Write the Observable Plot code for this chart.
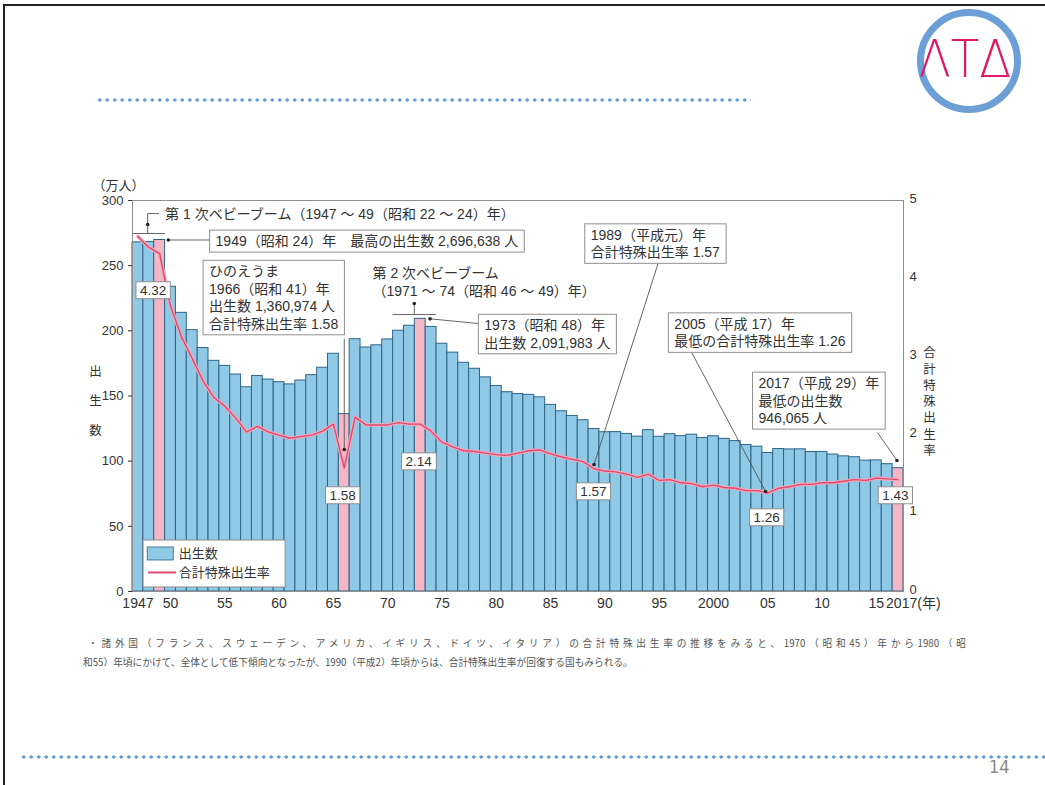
<!DOCTYPE html>
<html><head><meta charset="utf-8">
<script src="https://cdn.jsdelivr.net/npm/d3@7"></script>
<script src="https://cdn.jsdelivr.net/npm/@observablehq/plot@0.6"></script>
<style>
html,body{margin:0;padding:0;background:#fff;}
body{width:1045px;height:785px;position:relative;overflow:hidden;font-family:"Liberation Sans","Noto Sans CJK JP",sans-serif;}
#frame{position:absolute;left:3px;top:4px;width:1100px;height:900px;border-left:2.5px solid #222;border-top:2.5px solid #222;}
.dots{position:absolute;height:4px;background-image:radial-gradient(circle, #5b9bd5 1.4px, rgba(91,155,213,0) 1.9px);background-size:7.5px 4px;background-repeat:repeat-x;}
#logo-ring{position:absolute;left:917px;top:9px;width:90px;height:90px;border:7px solid #6b9fd6;border-radius:50%;}
#logo-text{position:absolute;left:900px;top:28px;width:130px;text-align:center;font-size:52px;line-height:62px;color:#e31766;letter-spacing:0px;font-family:"DejaVu Sans",sans-serif;font-weight:200;transform:scaleX(0.9);}
#chart{position:absolute;left:60px;top:160px;}
.cap{position:absolute;font-family:"Noto Sans CJK JP",sans-serif;font-size:9.7px;color:#555;line-height:14px;}
#cap1{left:88px;top:636px;width:878px;text-align:justify;text-align-last:justify;}
#cap2{left:83px;top:655px;white-space:nowrap;}
#page{position:absolute;left:989px;top:756px;font-size:18px;color:#8a8a8a;font-family:"Liberation Sans Narrow","DejaVu Sans Condensed",sans-serif;}
</style></head>
<body>
<div id="frame"></div>
<div class="dots" style="left:96px;top:98px;width:655px;"></div>
<div class="dots" style="left:20px;top:755px;width:1030px;"></div>
<div id="logo-ring"></div>
<div id="logo-text">ΛTΔ</div>
<div id="chart"></div>
<div class="cap" id="cap1">・諸外国（フランス、スウェーデン、アメリカ、イギリス、ドイツ、イタリア）の合計特殊出生率の推移をみると、1970（昭和45）年から1980（昭</div>
<div class="cap" id="cap2">和55）年頃にかけて、全体として低下傾向となったが、1990（平成2）年頃からは、合計特殊出生率が回復する国もみられる。</div>
<div id="page">14</div>
<script>
// ---- data ----
const years = d3.range(1947, 2018);
const births = [267.9,268.2,269.7,233.8,213.8,200.5,186.8,177.0,173.1,166.5,
  156.7,165.3,162.6,160.6,158.9,161.9,166.0,171.7,182.4,136.1,
  193.6,187.2,188.9,193.4,200.1,203.9,209.2,203.0,190.1,183.3,
  175.5,170.9,164.3,157.7,152.9,151.5,150.9,149.0,143.2,138.3,
  134.7,131.4,124.7,122.2,122.3,120.9,118.8,123.8,118.7,120.7,
  119.2,120.3,117.8,119.1,117.1,115.4,112.4,111.1,106.3,109.3,
  109.0,109.1,107.0,107.1,105.1,103.7,103.0,100.4,100.6,97.7,94.6];
const tfr = [4.54,4.40,4.32,3.65,3.26,2.98,2.69,2.48,2.37,2.22,
  2.04,2.11,2.04,2.00,1.96,1.98,2.00,2.05,2.14,1.58,
  2.23,2.13,2.13,2.13,2.16,2.14,2.14,2.05,1.91,1.85,
  1.80,1.79,1.77,1.75,1.74,1.77,1.80,1.81,1.76,1.72,
  1.69,1.66,1.57,1.54,1.53,1.50,1.46,1.50,1.42,1.43,
  1.39,1.38,1.34,1.36,1.33,1.32,1.29,1.29,1.26,1.32,
  1.34,1.37,1.37,1.39,1.39,1.41,1.43,1.42,1.45,1.44,1.43];
const highlightYears = [1949, 1966, 1973, 2017];
const xTickYears = [1947,1950,1955,1960,1965,1970,1975,1980,1985,1990,1995,2000,2005,2010,2015,2017];
const xTickLabels = ["1947","50","55","60","65","70","75","80","85","90","95","2000","05","10","15","2017"];
const leftTicks = [0,50,100,150,200,250,300];
const rightTicks = [0,1,2,3,4,5];
const seriesNames = ["出生数", "合計特殊出生率"];

// annotations (data coordinates: year, 万人)
const boxNotes = [
  {x: 1954.15, y: 269.3, text: "1949（昭和 24）年　最高の出生数 2,696,638 人"},
  {x: 1953.55, y: 226, text: "ひのえうま\n1966（昭和 41）年\n出生数 1,360,974 人\n合計特殊出生率 1.58"},
  {x: 1978.9, y: 198, text: "1973（昭和 48）年\n出生数 2,091,983 人"},
  {x: 1988.7, y: 267.4, text: "1989（平成元）年\n合計特殊出生率 1.57"},
  {x: 1996.4, y: 199.1, text: "2005（平成 17）年\n最低の合計特殊出生率 1.26"},
  {x: 2004.15, y: 146.9, text: "2017（平成 29）年\n最低の出生数\n946,065 人"}
];
const valueLabels = [
  {x: 1948.4, y: 231, text: "4.32"},
  {x: 1965.85, y: 73.7, text: "1.58"},
  {x: 1972.85, y: 99.7, text: "2.14"},
  {x: 1988.95, y: 76.7, text: "1.57"},
  {x: 2004.9, y: 56.8, text: "1.26"},
  {x: 2016.75, y: 73.7, text: "1.43"}
];
const plainNotes = [
  {x: 1949.5, y: 290, text: "第 1 次ベビーブーム（1947 ～ 49（昭和 22 ～ 24）年）"},
  {x: 1968.6, y: 237.9, text: "第 2 次ベビーブーム\n（1971 ～ 74（昭和 46 ～ 49）年）"}
];
const leaders = [
  {x1: 1949.8, y1: 269.7, x2: 1953.6, y2: 269.7},
  {x1: 1966, y1: 194, x2: 1966, y2: 109},
  {x1: 1973.9, y1: 209.2, x2: 1978.35, y2: 205.6},
  {x1: 1994.9, y1: 251.7, x2: 1989.0, y2: 97.4},
  {x1: 1997.9, y1: 184.9, x2: 2004.8, y2: 76.7},
  {x1: 2015.1, y1: 122, x2: 2016.9, y2: 100.5}
];
const brackets = [
  {id: "a", x: 1946.55, y: 274.7}, {id: "a", x: 1949.45, y: 274.7},
  {id: "b", x: 1947.9, y: 274.7}, {id: "b", x: 1947.9, y: 290}, {id: "b", x: 1948.9, y: 290},
  {id: "c", x: 1970.5, y: 212.5}, {id: "c", x: 1974.4, y: 212.5},
  {id: "d", x: 1972.45, y: 212.5}, {id: "d", x: 1972.45, y: 221}
];
const dotsAt = [
  {x: 1947.9, y: 281.6}, {x: 1949.8, y: 269.7}, {x: 1966, y: 109}, {x: 1972.45, y: 221},
  {x: 1973.9, y: 209.2}, {x: 1989.0, y: 97.4}, {x: 2004.8, y: 76.7}, {x: 2016.9, y: 100.5}
];

const BLUE = "#8fc9e6", PINK = "#f5b7c6", EDGE = "#2e6587", LINE = "#dc4c72", HALO = "#f2a9bb";
const K = 60; // right axis factor (5 -> 300)
const data = years.map((year, i) => ({year, births: births[i], tfr: tfr[i], hl: highlightYears.includes(year)}));
const lastTick = xTickYears.length - 1;

const FONT = '"Liberation Sans","Noto Sans CJK JP",sans-serif';
const plot = Plot.plot({
  width: 920, height: 460,
  marginLeft: 72, marginRight: 77, marginTop: 40, marginBottom: 29,
  x: {domain: [1946.5, 2017.5]},
  y: {domain: [0, 300]},
  style: {fontFamily: FONT, fontSize: "13px", color: "#333", background: "transparent", overflow: "visible"},
  marks: [
    Plot.rect(data, {x1: d => d.year - 0.5, x2: d => d.year + 0.5, y1: 0, y2: "births",
      fill: d => d.hl ? PINK : BLUE, stroke: EDGE, strokeWidth: 1}),
    Plot.frame({stroke: "#8f8f8f"}),
    Plot.line(data, {x: "year", y: d => d.tfr * K, stroke: HALO, strokeWidth: 3.6}),
    Plot.line(data, {x: "year", y: d => d.tfr * K, stroke: LINE, strokeWidth: 1.4}),
    Plot.axisX({ticks: xTickYears.slice(0, lastTick), tickFormat: d => xTickLabels[xTickYears.indexOf(d)], tickSize: 0, tickPadding: 7, fontSize: 14, label: null}),
    Plot.text([{x: xTickYears[lastTick], y: 0, t: xTickLabels[lastTick] + "(年)"}], {x: "x", y: "y", text: "t", dx: -12, dy: 7, textAnchor: "start", lineAnchor: "top", fontSize: 14}),
    Plot.axisY({anchor: "left", ticks: leftTicks, tickSize: 4, tickPadding: 5, label: null}),
    Plot.axisY({anchor: "right", ticks: rightTicks.map(t => t * K), tickFormat: d => String(d / K), tickSize: 0, tickPadding: 6, dy: -2, label: null}),
    Plot.text(["（万人）"], {frameAnchor: "top-left", dx: -40, dy: -20, textAnchor: "start", fontSize: 13}),
    Plot.text(["出\n生\n数"], {frameAnchor: "left", dx: -37, textAnchor: "middle", lineHeight: 2.35, fontSize: 12.5}),
    Plot.text(["合\n計\n特\n殊\n出\n生\n率"], {frameAnchor: "right", dx: 26, dy: 5, textAnchor: "middle", lineHeight: 1.3, fontSize: 12.5}),
    // legend
    Plot.rect([seriesNames], {x1: 1947.52, x2: 1960.6, y1: 3.1, y2: 39.1, fill: "white", stroke: "#8f8f8f"}),
    Plot.rect([seriesNames[0]], {x1: 1947.9, x2: 1950.3, y1: 23.8, y2: 33.8, fill: BLUE, stroke: EDGE, strokeWidth: 0.8}),
    Plot.ruleY([14.6], {x1: 1947.98, x2: 1950.55, stroke: LINE, strokeWidth: 2}),
    Plot.text(seriesNames, {x: 1950.75, y: [29.2, 14.6], text: d => d, textAnchor: "start", fontSize: 13}),
    // annotations
    Plot.line(brackets, {x: "x", y: "y", z: "id", stroke: "#555", strokeWidth: 0.9}),
    Plot.link(leaders, {x1: "x1", y1: "y1", x2: "x2", y2: "y2", stroke: "#555", strokeWidth: 0.9}),
    Plot.text(plainNotes, {x: "x", y: "y", text: "text", textAnchor: "start", lineAnchor: "middle", lineHeight: 1.25, fontSize: 14}),
    Plot.text(boxNotes, {x: "x", y: "y", text: "text", textAnchor: "start", lineAnchor: "middle", lineHeight: 1.25, fontSize: 14}),
    Plot.text(valueLabels, {x: "x", y: "y", text: "text", fontSize: 13.5}),
    Plot.dot(dotsAt, {x: "x", y: "y", r: 1.8, fill: "#222"})
  ]
});
document.getElementById("chart").appendChild(plot);

// draw white boxes behind annotation texts (matched by their content)
const bigKeys = new Set(boxNotes.map(d => d.text.replace(/\n/g, "")));
const smallKeys = new Set(valueLabels.map(d => d.text));
function boxes() {
  plot.querySelectorAll("rect.note-box").forEach(r => r.remove());
  plot.querySelectorAll("text").forEach(t => {
    const key = t.textContent;
    const big = bigKeys.has(key), small = smallKeys.has(key);
    if (!big && !small) return;
    const px = big ? 6 : 4, py = big ? 3 : 1;
    const b = t.getBBox();
    const r = document.createElementNS("http://www.w3.org/2000/svg", "rect");
    r.setAttribute("class", "note-box");
    r.setAttribute("x", b.x - px); r.setAttribute("y", b.y - py);
    r.setAttribute("width", b.width + 2 * px); r.setAttribute("height", b.height + 2 * py);
    r.setAttribute("fill", "white"); r.setAttribute("stroke", "#8f8f8f"); r.setAttribute("stroke-width", "1");
    const tr = t.getAttribute("transform"); if (tr) r.setAttribute("transform", tr);
    t.parentNode.insertBefore(r, t);
  });
}
boxes();
if (document.fonts && document.fonts.ready) document.fonts.ready.then(boxes);
</script>
</body></html>
